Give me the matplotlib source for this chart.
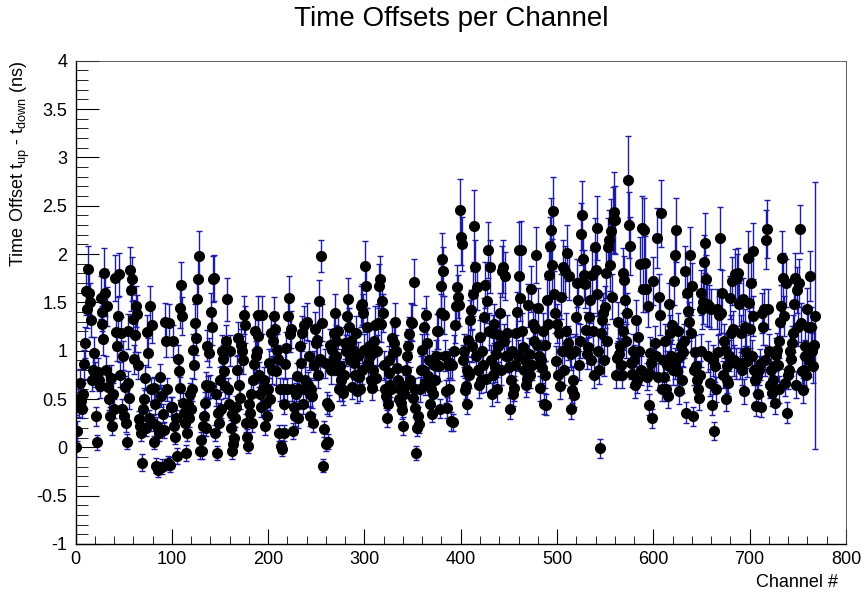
import numpy as np
import matplotlib
matplotlib.use('Agg')
import matplotlib.pyplot as plt
from matplotlib.ticker import MultipleLocator, FixedLocator

plt.rcParams['font.family'] = ['Liberation Sans', 'DejaVu Sans']
plt.rcParams['mathtext.fontset'] = 'custom'
plt.rcParams['mathtext.rm'] = 'Liberation Sans'
plt.rcParams['mathtext.it'] = 'Liberation Sans'

# time offset per channel (ns), channels 0..768
offset = [
    0.00, 0.45, 0.17, 0.50, 0.42, 0.67, 0.48, 0.40, 0.55, 0.86, 1.08, 1.62, 1.43, 1.84, 1.60, 1.50, 1.32, 0.70, 0.80, 0.98,
    0.75, 0.32, 0.05, 0.78, 0.70, 0.63, 1.55, 1.40, 1.28, 1.12, 1.80, 1.60, 0.80, 1.46, 0.62, 0.50, 0.32, 0.72, 0.22, 0.55,
    0.40, 1.75, 1.19, 1.05, 1.36, 1.79, 0.75, 1.18, 0.40, 0.95, 0.32, 0.62, 0.25, 0.06, 0.67, 1.20, 0.51, 1.83, 1.63, 1.74,
    1.33, 0.91, 1.16, 1.46, 1.38, 0.85, 0.29, 0.22, 0.15, -0.16, 0.40, 0.50, 0.72, 0.20, 1.19, 0.98, 0.30, 1.46, 0.60, 1.27,
    0.25, 0.05, 0.61, 0.45, -0.19, 0.22, -0.23, 0.15, 0.73, 0.53, -0.20, 0.35, 0.18, 1.30, 1.10, 0.60, -0.16, 1.29, -0.18, 0.42,
    0.42, 1.10, 0.22, 0.11, 0.30, -0.09, 0.91, 0.79, 0.61, 1.44, 1.68, 1.36, 0.46, 0.36, 0.25, -0.06, 0.15, 0.45, 0.30, 0.55,
    0.40, 0.60, 1.01, 0.85, 1.29, 1.13, 1.53, 1.74, 1.98, -0.04, 0.08, -0.04, 0.22, 0.32, 0.46, 0.65, 0.20, 1.05, 0.62, 0.98,
    0.63, 1.40, 1.24, 1.74, 1.75, 0.15, 0.55, -0.06, 0.36, 0.25, 0.70, 0.40, 1.00, 0.91, 0.79, 0.63, 1.10, 1.53, 0.60, 0.45,
    1.00, 0.20, -0.04, 0.35, 0.03, 0.10, 0.30, 0.42, 0.80, 1.13, 0.65, 0.51, 1.06, 1.00, 0.90, 1.37, 1.27, 0.25, 0.11, 0.01,
    0.45, 0.36, 0.55, 0.25, 0.70, 0.86, 1.20, 0.95, 1.00, 1.15, 1.37, 0.75, 0.55, 0.42, 1.37, 0.60, 0.70, 0.22, 0.46, 0.32,
    0.60, 0.87, 0.50, 1.18, 0.80, 1.10, 1.36, 1.22, 0.79, 1.01, 0.91, 0.15, 0.60, 0.01, -0.02, 0.60, 0.15, 0.45, 0.86, 1.03,
    0.60, 1.36, 1.55, 1.17, 1.22, 0.60, 0.17, 0.42, 0.32, 0.55, 0.74, 0.30, 0.60, 1.05, 0.87, 1.18, 0.45, 1.27, 0.70, 0.60,
    1.30, 0.65, 0.95, 0.55, 0.32, 0.60, 0.53, 0.25, 0.85, 1.22, 1.08, 1.11, 0.75, 1.51, 0.91, 1.98, 1.29, -0.19, 0.19, 0.87,
    0.03, 0.46, 0.06, 0.43, 1.06, 0.80, 1.01, 0.90, 1.18, 1.39, 1.10, 0.95, 0.80, 1.20, 0.60, 0.84, 0.70, 0.60, 0.56, 0.75,
    1.08, 1.00, 1.36, 1.53, 1.25, 0.90, 1.10, 0.62, 1.01, 0.87, 0.75, 1.18, 0.58, 0.94, 0.73, 0.60, 1.46, 1.48, 0.80, 1.39,
    1.01, 1.88, 1.67, 1.25, 0.87, 1.05, 0.95, 0.70, 0.61, 0.80, 1.10, 1.27, 0.72, 1.00, 1.29, 1.67, 1.74, 1.28, 1.51, 1.39,
    0.85, 0.60, 0.53, 0.30, 0.45, 0.77, 0.90, 0.65, 0.60, 1.13, 0.98, 1.08, 1.30, 1.00, 0.82, 0.70, 0.50, 0.60, 0.46, 0.39,
    0.22, 0.55, 0.63, 0.80, 0.94, 1.05, 1.17, 0.70, 1.30, 1.29, 0.51, 1.71, 0.41, 0.60, -0.06, 0.20, 0.32, 0.24, 0.60, 0.80,
    1.01, 0.80, 1.25, 0.67, 1.37, 1.08, 0.74, 0.90, 0.45, 0.60, 0.35, 0.55, 0.85, 0.70, 0.95, 1.20, 1.20, 0.84, 0.40, 1.67,
    1.39, 1.95, 1.82, 1.37, 0.95, 0.58, 0.41, 0.85, 0.60, 0.87, 0.27, 0.85, 0.26, 1.00, 1.27, 1.46, 1.66, 1.56, 1.47, 2.46,
    2.18, 2.10, 0.90, 1.00, 0.59, 0.63, 0.80, 0.45, 1.11, 0.75, 1.32, 1.42, 1.05, 1.59, 2.29, 1.87, 0.95, 1.66, 0.80, 0.64,
    1.14, 0.70, 1.00, 0.85, 1.35, 1.68, 0.71, 1.51, 2.04, 1.20, 1.87, 0.90, 0.55, 0.75, 1.18, 1.28, 0.83, 0.97, 0.60, 1.05,
    1.16, 1.39, 0.80, 1.82, 1.87, 1.10, 1.77, 0.95, 1.18, 0.94, 0.83, 0.40, 0.70, 1.00, 0.55, 0.61, 0.85, 1.18, 1.40, 0.95,
    2.04, 1.77, 1.54, 2.04, 1.20, 1.04, 0.80, 0.90, 0.65, 0.71, 1.47, 0.97, 0.75, 1.64, 0.85, 1.28, 1.10, 1.23, 1.99, 1.06,
    1.44, 0.95, 0.61, 0.90, 0.82, 1.20, 0.45, 0.75, 1.06, 0.44, 1.52, 1.28, 1.78, 2.08, 2.25, 1.89, 2.44, 1.59, 1.39, 0.89,
    1.28, 0.75, 1.18, 0.63, 1.56, 1.00, 1.87, 0.80, 1.82, 1.20, 2.01, 1.08, 1.77, 1.00, 0.97, 0.40, 0.59, 0.70, 0.54, 1.00,
    1.35, 1.70, 1.52, 0.85, 1.10, 2.21, 2.40, 1.95, 1.78, 1.69, 1.21, 0.97, 1.04, 1.35, 1.52, 0.90, 1.78, 1.20, 0.75, 2.07,
    1.83, 1.59, 2.27, 1.00, 0.80, -0.01, 1.18, 1.32, 1.39, 0.90, 1.45, 1.80, 1.10, 2.07, 2.15, 1.89, 2.24, 1.56, 2.35, 2.43,
    2.35, 0.75, 0.92, 1.30, 0.97, 1.05, 0.85, 0.75, 1.20, 1.80, 1.73, 1.52, 1.10, 1.39, 2.77, 2.30, 2.08, 0.87, 0.76, 1.00,
    0.90, 0.64, 1.32, 0.70, 1.14, 1.00, 1.90, 0.80, 2.27, 1.64, 2.25, 1.91, 1.64, 0.73, 1.46, 0.77, 0.44, 0.98, 0.87, 0.30,
    1.72, 0.94, 1.08, 0.94, 2.17, 0.73, 1.56, 1.37, 2.42, 0.60, 0.90, 0.73, 1.10, 0.60, 0.85, 0.53, 1.48, 1.18, 0.95, 1.27,
    0.80, 1.72, 0.87, 1.99, 2.25, 0.79, 1.20, 0.58, 0.95, 1.05, 0.70, 0.99, 1.10, 1.82, 0.36, 1.60, 1.41, 1.30, 1.99, 1.18,
    1.67, 0.32, 0.80, 0.99, 0.84, 0.70, 0.60, 0.51, 0.75, 1.00, 1.60, 1.43, 1.50, 1.92, 2.11, 1.74, 1.48, 0.94, 1.46, 0.67,
    1.43, 0.44, 0.90, 0.17, 0.84, 0.60, 1.43, 0.99, 1.37, 2.17, 1.39, 1.60, 0.75, 1.10, 1.01, 0.50, 0.84, 0.70, 0.67, 0.95,
    1.55, 1.18, 1.72, 1.22, 0.90, 1.79, 0.87, 1.75, 1.80, 1.48, 0.87, 1.18, 0.80, 1.53, 0.58, 1.24, 0.99, 0.89, 1.96, 1.49,
    1.22, 1.70, 0.95, 2.03, 1.36, 0.80, 0.70, 0.43, 0.74, 0.55, 0.80, 0.86, 0.42, 1.39, 1.25, 1.43, 0.90, 2.15, 2.26, 1.43,
    1.00, 0.65, 0.80, 0.56, 0.70, 0.84, 0.46, 0.96, 1.01, 0.85, 1.10, 0.60, 1.30, 1.46, 1.96, 1.75, 1.36, 0.67, 1.70, 0.36,
    0.75, 0.80, 1.00, 0.91, 1.08, 1.18, 1.48, 1.75, 0.65, 1.63, 1.25, 1.70, 2.26, 1.29, 0.79, 0.59, 0.80, 0.94, 1.05, 0.75,
    1.43, 1.24, 0.90, 1.77, 1.25, 1.00, 0.84, 1.06, 1.36,
]

# error on each offset (ns)
offset_err = [
    .10, .12, .10, .13, .11, .14, .12, .10, .12, .15, .16, .25, .20, .24, .22, .20, .18, .12, .14, .16,
    .13, .10, .08, .14, .12, .12, .22, .20, .18, .16, .26, .24, .14, .20, .12, .11, .10, .13, .09, .12,
    .10, .24, .18, .16, .20, .22, .13, .17, .10, .15, .09, .12, .09, .08, .12, .18, .11, .24, .22, .23,
    .19, .15, .17, .21, .20, .14, .09, .09, .08, .09, .10, .11, .13, .08, .18, .15, .09, .21, .12, .19,
    .08, .07, .12, .10, .08, .09, .08, .08, .13, .11, .08, .10, .08, .19, .17, .12, .07, .19, .08, .10,
    .10, .17, .08, .08, .09, .08, .15, .14, .12, .21, .24, .20, .10, .10, .09, .08, .08, .11, .09, .12,
    .10, .12, .16, .14, .19, .17, .22, .24, .26, .08, .08, .08, .09, .10, .11, .13, .08, .16, .12, .15,
    .12, .20, .18, .24, .24, .08, .12, .07, .10, .09, .13, .10, .16, .15, .14, .12, .17, .22, .12, .10,
    .16, .08, .08, .10, .08, .08, .09, .11, .14, .17, .12, .11, .16, .15, .14, .20, .19, .09, .08, .07,
    .10, .10, .12, .09, .13, .15, .18, .15, .16, .17, .20, .13, .12, .11, .20, .12, .13, .09, .11, .10,
    .12, .15, .11, .18, .14, .17, .20, .18, .14, .16, .15, .08, .12, .07, .07, .12, .08, .11, .15, .16,
    .12, .20, .22, .18, .19, .12, .08, .11, .10, .12, .13, .10, .12, .16, .15, .18, .10, .19, .13, .12,
    .19, .13, .15, .12, .10, .12, .12, .09, .15, .18, .17, .17, .14, .22, .15, .17, .19, .07, .08, .15,
    .07, .11, .08, .11, .16, .14, .16, .15, .18, .20, .17, .15, .14, .18, .12, .14, .13, .12, .12, .14,
    .17, .16, .20, .22, .19, .15, .17, .12, .16, .15, .14, .18, .12, .15, .14, .12, .21, .21, .14, .20,
    .16, .25, .23, .19, .15, .16, .15, .13, .12, .14, .17, .19, .13, .16, .19, .23, .24, .19, .21, .20,
    .15, .12, .12, .09, .10, .14, .15, .13, .12, .17, .16, .17, .19, .16, .14, .13, .11, .12, .11, .10,
    .09, .12, .12, .14, .16, .17, .18, .13, .19, .19, .11, .24, .10, .12, .07, .08, .10, .09, .13, .14,
    .16, .14, .19, .13, .20, .17, .13, .15, .10, .12, .09, .12, .15, .13, .16, .18, .18, .15, .10, .23,
    .20, .27, .25, .20, .16, .12, .11, .15, .12, .15, .10, .15, .09, .16, .19, .21, .23, .22, .21, .32,
    .29, .28, .16, .17, .13, .13, .15, .11, .18, .14, .20, .21, .17, .23, .37, .27, .16, .24, .15, .13,
    .18, .14, .17, .15, .20, .24, .14, .22, .29, .19, .27, .16, .12, .15, .19, .20, .15, .17, .13, .17,
    .19, .21, .15, .26, .27, .18, .25, .17, .19, .16, .15, .11, .14, .17, .12, .13, .15, .19, .21, .16,
    .29, .25, .23, .30, .19, .17, .15, .16, .13, .14, .22, .16, .14, .24, .15, .20, .18, .19, .29, .17,
    .21, .16, .13, .16, .15, .19, .11, .14, .17, .11, .22, .20, .25, .30, .33, .27, .36, .23, .21, .16,
    .20, .14, .19, .13, .23, .17, .27, .15, .26, .19, .29, .18, .25, .17, .17, .11, .13, .14, .12, .17,
    .20, .25, .23, .15, .18, .32, .36, .28, .26, .25, .19, .16, .17, .21, .23, .16, .26, .19, .14, .30,
    .27, .23, .33, .17, .14, .10, .19, .20, .21, .16, .22, .26, .18, .30, .31, .27, .33, .23, .34, .42,
    .35, .14, .16, .20, .16, .17, .15, .14, .19, .26, .25, .22, .18, .21, .45, .34, .30, .16, .14, .17,
    .16, .13, .20, .14, .18, .17, .28, .15, .33, .24, .33, .28, .24, .14, .21, .14, .11, .16, .15, .10,
    .25, .16, .18, .16, .31, .14, .23, .21, .35, .12, .16, .14, .18, .12, .15, .12, .22, .19, .16, .20,
    .15, .25, .16, .29, .33, .15, .19, .13, .16, .17, .14, .16, .18, .26, .11, .24, .21, .20, .29, .19,
    .24, .10, .15, .17, .16, .14, .13, .12, .14, .17, .23, .21, .22, .28, .31, .25, .22, .16, .22, .14,
    .21, .11, .16, .09, .16, .13, .21, .17, .20, .32, .21, .23, .14, .18, .17, .12, .16, .14, .14, .16,
    .22, .19, .25, .19, .16, .26, .16, .25, .26, .22, .16, .19, .15, .22, .13, .19, .17, .16, .28, .22,
    .19, .25, .16, .29, .21, .15, .14, .11, .15, .13, .15, .16, .11, .21, .19, .21, .16, .31, .30, .21,
    .17, .14, .15, .13, .14, .16, .12, .17, .17, .16, .18, .14, .20, .22, .28, .26, .21, .14, .25, .11,
    .15, .16, .17, .17, .18, .19, .22, .26, .14, .24, .20, .25, .25, .20, .16, .13, .16, .17, .18, .15,
    .22, .20, .17, .26, .20, .18, .17, .19, 1.38,
]

channel = np.arange(len(offset))

yticks = [-1, -0.5, 0, 0.5, 1, 1.5, 2, 2.5, 3, 3.5, 4]
ytick_labels = ['-1', '-0.5', '0', '0.5', '1', '1.5', '2', '2.5', '3', '3.5', '4']
xticks = [0, 100, 200, 300, 400, 500, 600, 700, 800]

fig = plt.figure(figsize=(8.64, 5.97), dpi=100)
ax = fig.add_axes([0.0874, 0.0888, 0.8917, 0.8095])

ax.errorbar(channel, offset, yerr=offset_err, fmt='none', ecolor='#1c1ca6',
            elinewidth=1.0, capsize=2.5, capthick=1.0, zorder=2)
ax.plot(channel, offset, 'o', color='black', markersize=7, zorder=3)

ax.set_xlim(0, 800)
ax.set_ylim(-1, 4)
ax.xaxis.set_major_locator(FixedLocator(xticks))
ax.xaxis.set_minor_locator(MultipleLocator(20))
ax.yaxis.set_major_locator(FixedLocator(yticks))
ax.yaxis.set_minor_locator(MultipleLocator(0.1))
ax.set_yticklabels(ytick_labels)
ax.set_xticklabels([str(v) for v in xticks])

ax.tick_params(axis='both', which='both', direction='in', labelsize=13, top=False, right=False)
ax.tick_params(axis='y', which='major', length=16.5, pad=6)
ax.tick_params(axis='y', which='minor', length=8.5)
ax.tick_params(axis='x', which='major', length=11, pad=5)
ax.tick_params(axis='x', which='minor', length=5.5)

for s in ['left', 'bottom']:
    ax.spines[s].set_linewidth(1.0)
for s in ['top', 'right']:
    ax.spines[s].set_linewidth(0.6)
    ax.spines[s].set_color('#444444')

fig.text(0.522, 0.968, 'Time Offsets per Channel', ha='center', va='center', fontsize=20)
fig.text(0.970, 0.025, 'Channel #', ha='right', va='center', fontsize=13)
fig.text(0.024, 0.898, r'Time Offset t$_{\rm up}$ - t$_{\rm down}$ (ns)',
         rotation=90, ha='center', va='top', fontsize=13)

fig.savefig('out.png', dpi=100)
